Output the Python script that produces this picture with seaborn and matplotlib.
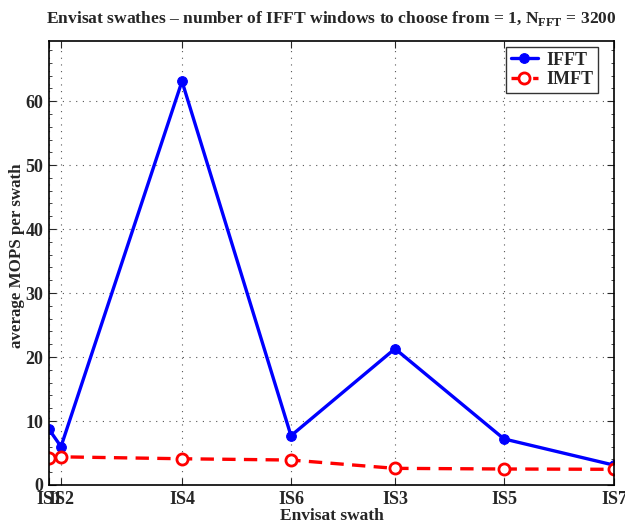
import matplotlib
matplotlib.use("Agg")
import matplotlib.pyplot as plt
import seaborn as sns
import pandas as pd
from matplotlib.ticker import AutoMinorLocator

swaths = ["IS1", "IS2", "IS4", "IS6", "IS3", "IS5", "IS7"]
swath_pos = [0, 12, 133, 242, 346, 455, 565]
ifft = [8.7, 6.0, 63.1, 7.7, 21.3, 7.2, 3.1]
imft = [4.2, 4.4, 4.1, 3.9, 2.6, 2.5, 2.45]

sns.set_theme(style="ticks")
plt.rcParams['font.family'] = ['Liberation Serif', 'DejaVu Serif']
plt.rcParams['font.weight'] = 'bold'
plt.rcParams['mathtext.fontset'] = 'custom'
plt.rcParams['mathtext.bf'] = 'Liberation Serif:bold'
plt.rcParams['mathtext.rm'] = 'Liberation Serif:bold'

df = pd.DataFrame({"pos": swath_pos, "IFFT": ifft, "IMFT": imft})

fig = plt.figure(figsize=(6.25, 5.29), dpi=100)
ax = fig.add_axes([0.0784, 0.0832, 0.9040, 0.8393])

sns.lineplot(data=df, x="pos", y="IFFT", ax=ax, color="#0000ff", lw=2.4,
             marker="o", markersize=7, markerfacecolor="#0000ff",
             markeredgecolor="#0000ff", label="IFFT")
sns.lineplot(data=df, x="pos", y="IMFT", ax=ax, color="#ff0000", lw=2.4,
             linestyle=(0, (4, 2.5)), marker="o", markersize=8,
             markerfacecolor="white", markeredgecolor="#ff0000",
             markeredgewidth=2, label="IMFT")

ax.set_xlim(swath_pos[0], swath_pos[-1])
ax.set_ylim(0, 69.4)
ax.set_xticks(swath_pos)
ax.set_xticklabels(swaths)
ax.set_yticks([0, 10, 20, 30, 40, 50, 60])
ax.yaxis.set_minor_locator(AutoMinorLocator(5))
ax.grid(True, which="major", linestyle=(0, (1, 5)), color="#555555", lw=0.8)
ax.tick_params(direction="in", top=True, right=True, length=5, width=0.8,
               labelsize=13, pad=4)
ax.tick_params(which="minor", direction="in", top=False, right=True, length=2.5, width=0.6)
for lab in ax.get_xticklabels() + ax.get_yticklabels():
    lab.set_fontweight("bold")
for s in ax.spines.values():
    s.set_linewidth(1.2)
    s.set_color("black")

ax.set_xlabel("Envisat swath", fontsize=12.5, fontweight="bold", labelpad=0)
ax.set_ylabel("average MOPS per swath", fontsize=12.2, fontweight="bold")
ax.yaxis.set_label_coords(-0.043, 0.516)
ax.set_title(r"Envisat swathes – number of IFFT windows to choose from = 1, N$_{\mathbf{FFT}}$ = 3200",
             fontsize=12.6, fontweight="bold", pad=13)

leg = ax.legend(loc="upper right", bbox_to_anchor=(0.972, 0.9865), fontsize=13,
                frameon=True, fancybox=False, edgecolor="black", handlelength=1.5,
                handletextpad=0.5, borderpad=0.25, labelspacing=0.15, borderaxespad=0)
leg.get_frame().set_linewidth(1.0)
for t in leg.get_texts():
    t.set_fontweight("bold")

fig.savefig("out.png", dpi=100)
